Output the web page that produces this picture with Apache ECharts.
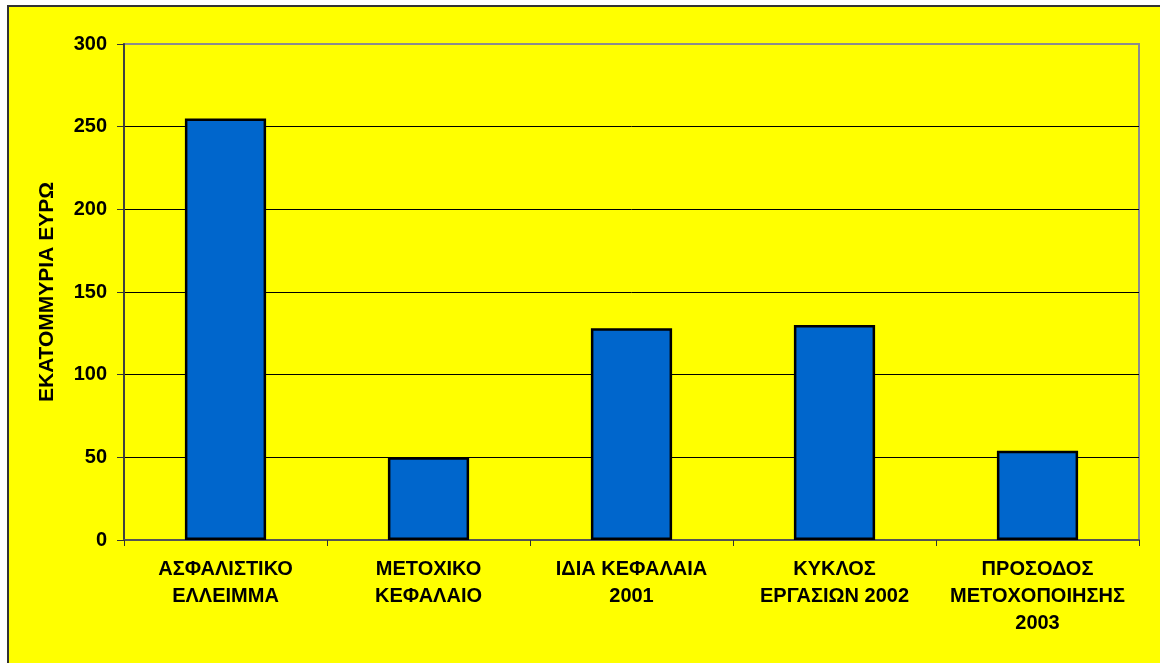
<!DOCTYPE html>
<html>
<head>
<meta charset="utf-8">
<script src="https://cdn.jsdelivr.net/npm/echarts@6/dist/echarts.min.js"></script>
<style>
html,body{margin:0;padding:0;width:1160px;height:663px;overflow:hidden;background:#fff;}
#frame{position:absolute;left:7px;top:5px;width:1170px;height:680px;background:#ffff00;border-left:2px solid #333;border-top:2px solid #333;}
#chart{position:absolute;left:0;top:0;width:1160px;height:663px;}
</style>
</head>
<body>
<div id="frame"></div>
<div id="chart"></div>
<script>
const categories = ['ΑΣΦΑΛΙΣΤΙΚΟ\nΕΛΛΕΙΜΜΑ', 'ΜΕΤΟΧΙΚΟ\nΚΕΦΑΛΑΙΟ', 'ΙΔΙΑ ΚΕΦΑΛΑΙΑ\n2001', 'ΚΥΚΛΟΣ\nΕΡΓΑΣΙΩΝ 2002', 'ΠΡΟΣΟΔΟΣ\nΜΕΤΟΧΟΠΟΙΗΣΗΣ\n2003'];
const values = [255, 50, 128, 130, 54];
const yAxisTitle = 'ΕΚΑΤΟΜΜΥΡΙΑ ΕΥΡΩ';
const yMin = 0, yMax = 300, yStep = 50;

const chart = echarts.init(document.getElementById('chart'), null, {renderer: 'canvas'});
const font = 'Liberation Sans, Arial, sans-serif';
chart.setOption({
  backgroundColor: 'transparent',
  animation: false,
  grid: {
    left: 124, top: 44, right: 21, bottom: 123,
    show: true, backgroundColor: 'transparent',
    borderColor: '#8c8c8c', borderWidth: 2
  },
  xAxis: {
    type: 'category',
    data: categories,
    boundaryGap: true,
    axisLine: {show: true, lineStyle: {color: '#555', width: 2}},
    axisTick: {show: true, length: 6, lineStyle: {color: '#333', width: 1}},
    axisLabel: {
      color: '#000', fontFamily: font, fontWeight: 'bold', fontSize: 20,
      lineHeight: 27, margin: 16, interval: 0
    },
    splitLine: {show: false}
  },
  yAxis: {
    type: 'value',
    min: yMin, max: yMax, interval: yStep,
    name: yAxisTitle,
    nameLocation: 'middle',
    nameGap: 66,
    nameTextStyle: {color: '#000', fontFamily: font, fontWeight: 'bold', fontSize: 21},
    axisLine: {show: true, lineStyle: {color: '#404040', width: 2}},
    axisTick: {show: true, length: 7, lineStyle: {color: '#333', width: 1}},
    axisLabel: {color: '#000', fontFamily: font, fontWeight: 'bold', fontSize: 20, margin: 17},
    splitLine: {show: true, lineStyle: {color: ['#000', '#000', '#000', '#000', '#000', '#000', '#8c8c8c'], width: 1}}
  },
  series: [{
    type: 'bar',
    data: values,
    barWidth: '40%',
    itemStyle: {color: '#0066cc', borderColor: '#000', borderWidth: 2.5}
  }]
});
</script>
</body>
</html>
